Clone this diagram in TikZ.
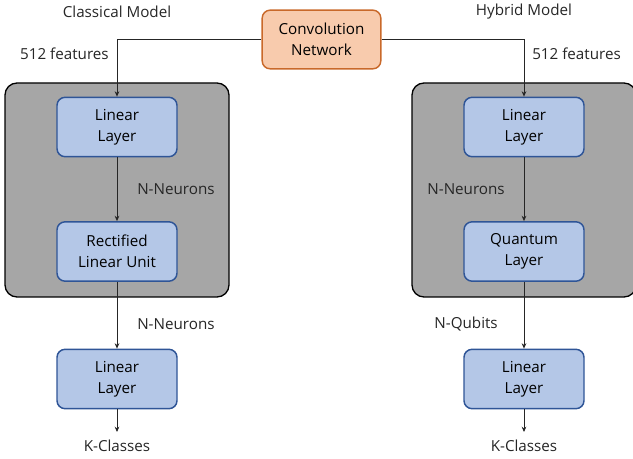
\documentclass[tikz,border=0pt]{standalone}
\usepackage{fontspec}
\setmainfont{Open Sans}
\usetikzlibrary{arrows.meta}
\definecolor{convfill}{HTML}{F8CBAD}
\definecolor{convline}{HTML}{C9692A}
\definecolor{layfill}{HTML}{B4C7E7}
\definecolor{layline}{HTML}{2F5597}
\definecolor{grpfill}{HTML}{A6A6A6}
\definecolor{wire}{HTML}{262626}

\begin{document}
\begin{tikzpicture}[x=0.75pt,y=0.75pt,yscale=-1,
  font=\fontsize{11.4}{15.5}\selectfont,
  layer/.style={draw=layline, fill=layfill, line width=1.1pt, rounded corners=6pt,
    minimum width=90pt, minimum height=44.5pt, align=center, inner sep=0pt},
  convbox/.style={draw=convline, fill=convfill, line width=1.1pt, rounded corners=6pt,
    minimum width=89pt, minimum height=44pt, align=center, inner sep=0pt},
  group/.style={draw=black, fill=grpfill, line width=1pt, rounded corners=9pt,
    minimum width=168pt, minimum height=160.5pt, inner sep=0pt},
  lbl/.style={inner sep=0pt, text=black!85},
  flow/.style={draw=wire, line width=0.6pt, -{Stealth[length=4pt,width=3.5pt]}}]
\useasboundingbox (0,0) rectangle (633,459);

%Shape: grey groups
\node [group] (grpL) at (117,190) {};
\node [group] (grpR) at (524,190) {};

%Shape: top block
\node [convbox] (conv) at (321.5,39.5) {Convolution\\Network};

%Classical model
\node [layer] (linL) at (117,127) {Linear\\Layer};
\node [layer] (relu) at (117,251.5) {Rectified\\Linear Unit};
\node [layer] (outL) at (117,379) {Linear\\Layer};
\coordinate (endL) at (117,432);

%Hybrid model
\node [layer] (linR) at (524,127) {Linear\\Layer};
\node [layer] (qlay) at (524,251.5) {Quantum\\Layer};
\node [layer] (outR) at (524,379) {Linear\\Layer};
\coordinate (endR) at (524,432);

%Connectors
\draw [flow] (conv.west) -| (linL.north);
\draw [flow] (conv.east) -| (linR.north);
\draw [flow] (linL) -- (relu);
\draw [flow] (relu) -- (outL);
\draw [flow] (outL) -- (endL);
\draw [flow] (linR) -- (qlay);
\draw [flow] (qlay) -- (outR);
\draw [flow] (outR) -- (endR);

% Text Node
\node [lbl] (tL) at (117,12) {Classical Model};
\node [lbl] (tR) at (524,12) {Hybrid Model};
\node [lbl, anchor=east] (fL) at (109,54) {512 features};
\node [lbl, anchor=west] (fR) at (532,54) {512 features};
\node [lbl, anchor=west] (nL1) at (137,189) {N-Neurons};
\node [lbl, anchor=west] (nL2) at (137,324) {N-Neurons};
\node [lbl, anchor=east] (nR1) at (505,189) {N-Neurons};
\node [lbl, anchor=east] (nR2) at (498,324) {N-Qubits};
\node [lbl] (kL) at (117,446) {K-Classes};
\node [lbl] (kR) at (524,446) {K-Classes};
\end{tikzpicture}
\end{document}
